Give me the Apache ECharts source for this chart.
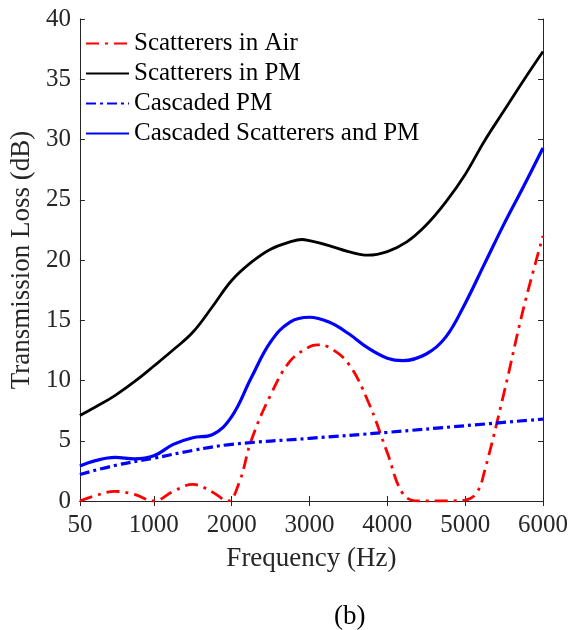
<!DOCTYPE html>
<html lang="en">
<head>
    <meta charset="UTF-8">
    <title>Transmission Loss</title>
    <script src="https://cdn.jsdelivr.net/npm/echarts@6/dist/echarts.min.js"></script>
    <style>
        html, body { margin: 0; padding: 0; background: #fff; }
        #main { width: 571px; height: 630px; }
    </style>
</head>
<body>
<div id="main"></div>
<script>
// values
var xTicks = [50, 1000, 2000, 3000, 4000, 5000, 6000];

var airFreq = [50, 250, 500, 750, 1000, 1250, 1500, 1750, 1950, 2100, 2250, 2500, 2750, 3000, 3100, 3250, 3500, 3750, 4000, 4200, 4400, 4700, 5000, 5150, 5250, 5500, 5750, 6000];
var airTL   = [0.0, 0.45, 0.8, 0.55, 0.0, 0.8, 1.38, 0.75, 0.0, 1.6, 5.0, 8.8, 11.6, 12.8, 12.95, 12.75, 11.4, 8.3, 4.0, 0.6, 0.0, 0.0, 0.08, 0.7, 2.5, 9.0, 16.0, 22.0];

var pmFreq = [50, 250, 500, 750, 1000, 1250, 1500, 1750, 2000, 2250, 2500, 2750, 2900, 3000, 3250, 3500, 3750, 4000, 4250, 4500, 4750, 5000, 5250, 5500, 5750, 6000];
var pmTL   = [7.1, 7.8, 8.75, 9.9, 11.2, 12.55, 14.0, 16.1, 18.3, 19.8, 20.9, 21.5, 21.7, 21.6, 21.2, 20.7, 20.4, 20.7, 21.5, 22.9, 24.8, 27.1, 29.9, 32.4, 34.9, 37.3];

var cascPmFreq = [50, 500, 1000, 1500, 2000, 3000, 4000, 5000, 6000];
var cascPmTL   = [2.2, 2.95, 3.55, 4.2, 4.7, 5.2, 5.7, 6.25, 6.8];

var cascAllFreq = [50, 250, 500, 750, 1000, 1250, 1500, 1750, 2000, 2250, 2500, 2750, 3000, 3250, 3500, 3750, 4000, 4200, 4500, 4750, 5000, 5250, 5500, 5750, 6000];
var cascAllTL   = [2.9, 3.35, 3.62, 3.5, 3.75, 4.7, 5.25, 5.5, 7.0, 10.2, 13.2, 14.85, 15.25, 14.85, 13.9, 12.7, 11.85, 11.65, 12.2, 13.6, 16.4, 19.7, 23.0, 26.1, 29.3];

function pairs(xs, ys) {
    var out = [];
    for (var i = 0; i < xs.length; i++) { out.push([xs[i], ys[i]]); }
    return out;
}

var FONT = "'Liberation Serif', 'Times New Roman', serif";
var INK = '#262626';

var chart = echarts.init(document.getElementById('main'));

var hiddenAxis = {
    axisLine: { show: true, lineStyle: { color: INK, width: 1 } },
    axisLabel: { show: false },
    splitLine: { show: false }
};

var option = {
    animation: false,
    backgroundColor: '#fff',
    textStyle: { fontFamily: FONT, color: INK },
    title: {
        text: '(b)',
        left: 329,
        top: 598,
        textStyle: { fontFamily: FONT, fontWeight: 'normal', fontSize: 27, color: '#000' }
    },
    grid: { left: 77, right: 28, top: 19, bottom: 129 },
    legend: {
        orient: 'vertical',
        left: 80,
        top: 26,
        itemWidth: 43,
        itemHeight: 14,
        itemGap: 5,
        itemStyle: { opacity: 0 },
        textStyle: { fontFamily: FONT, fontSize: 25, color: '#000' },
        data: ['Scatterers in Air', 'Scatterers in PM', 'Cascaded PM', 'Cascaded Scatterers and PM']
    },
    xAxis: [
        {
            type: 'value',
            min: 50,
            max: 6000,
            name: 'Frequency (Hz)',
            nameLocation: 'middle',
            nameGap: 44,
            nameTextStyle: { fontFamily: FONT, fontSize: 27, color: INK },
            axisLine: { lineStyle: { color: INK, width: 1 } },
            axisTick: { inside: true, length: 5, customValues: xTicks, lineStyle: { color: INK } },
            axisLabel: {
                customValues: xTicks, margin: 12, fontFamily: FONT, fontSize: 25, color: INK,
                formatter: function (v) { return String(v); }
            },
            splitLine: { show: false }
        },
        Object.assign({
            type: 'value', position: 'top', min: 50, max: 6000,
            axisTick: { inside: true, length: 5, customValues: xTicks, lineStyle: { color: INK } }
        }, hiddenAxis)
    ],
    yAxis: [
        {
            type: 'value',
            min: 0,
            max: 40,
            interval: 5,
            name: 'Transmission Loss (dB)',
            nameLocation: 'middle',
            nameGap: 36,
            nameTextStyle: { fontFamily: FONT, fontSize: 27, color: INK },
            axisLine: { show: true, lineStyle: { color: INK, width: 1 } },
            axisTick: { show: true, inside: true, length: 5, lineStyle: { color: INK } },
            axisLabel: { margin: 9, fontFamily: FONT, fontSize: 25, color: INK },
            splitLine: { show: false }
        },
        Object.assign({
            type: 'value', position: 'right', min: 0, max: 40, interval: 5,
            axisTick: { show: true, inside: true, length: 5, lineStyle: { color: INK } }
        }, hiddenAxis)
    ],
    series: [
        {
            name: 'Scatterers in Air',
            type: 'line',
            smooth: 0.4,
            symbol: 'none',
            color: '#ff0000',
            lineStyle: { color: '#ff0000', width: 2.8, type: [13, 6, 3, 6] },
            data: pairs(airFreq, airTL)
        },
        {
            name: 'Scatterers in PM',
            type: 'line',
            smooth: 0.4,
            symbol: 'none',
            color: '#000000',
            lineStyle: { color: '#000000', width: 2.8 },
            data: pairs(pmFreq, pmTL)
        },
        {
            name: 'Cascaded PM',
            type: 'line',
            smooth: 0.4,
            symbol: 'none',
            color: '#0000ff',
            lineStyle: { color: '#0000ff', width: 3.2, type: [10, 4, 3, 4] },
            data: pairs(cascPmFreq, cascPmTL)
        },
        {
            name: 'Cascaded Scatterers and PM',
            type: 'line',
            smooth: 0.4,
            symbol: 'none',
            color: '#0000ff',
            lineStyle: { color: '#0000ff', width: 3.2 },
            data: pairs(cascAllFreq, cascAllTL)
        }
    ]
};

chart.setOption(option);
</script>
</body>
</html>
